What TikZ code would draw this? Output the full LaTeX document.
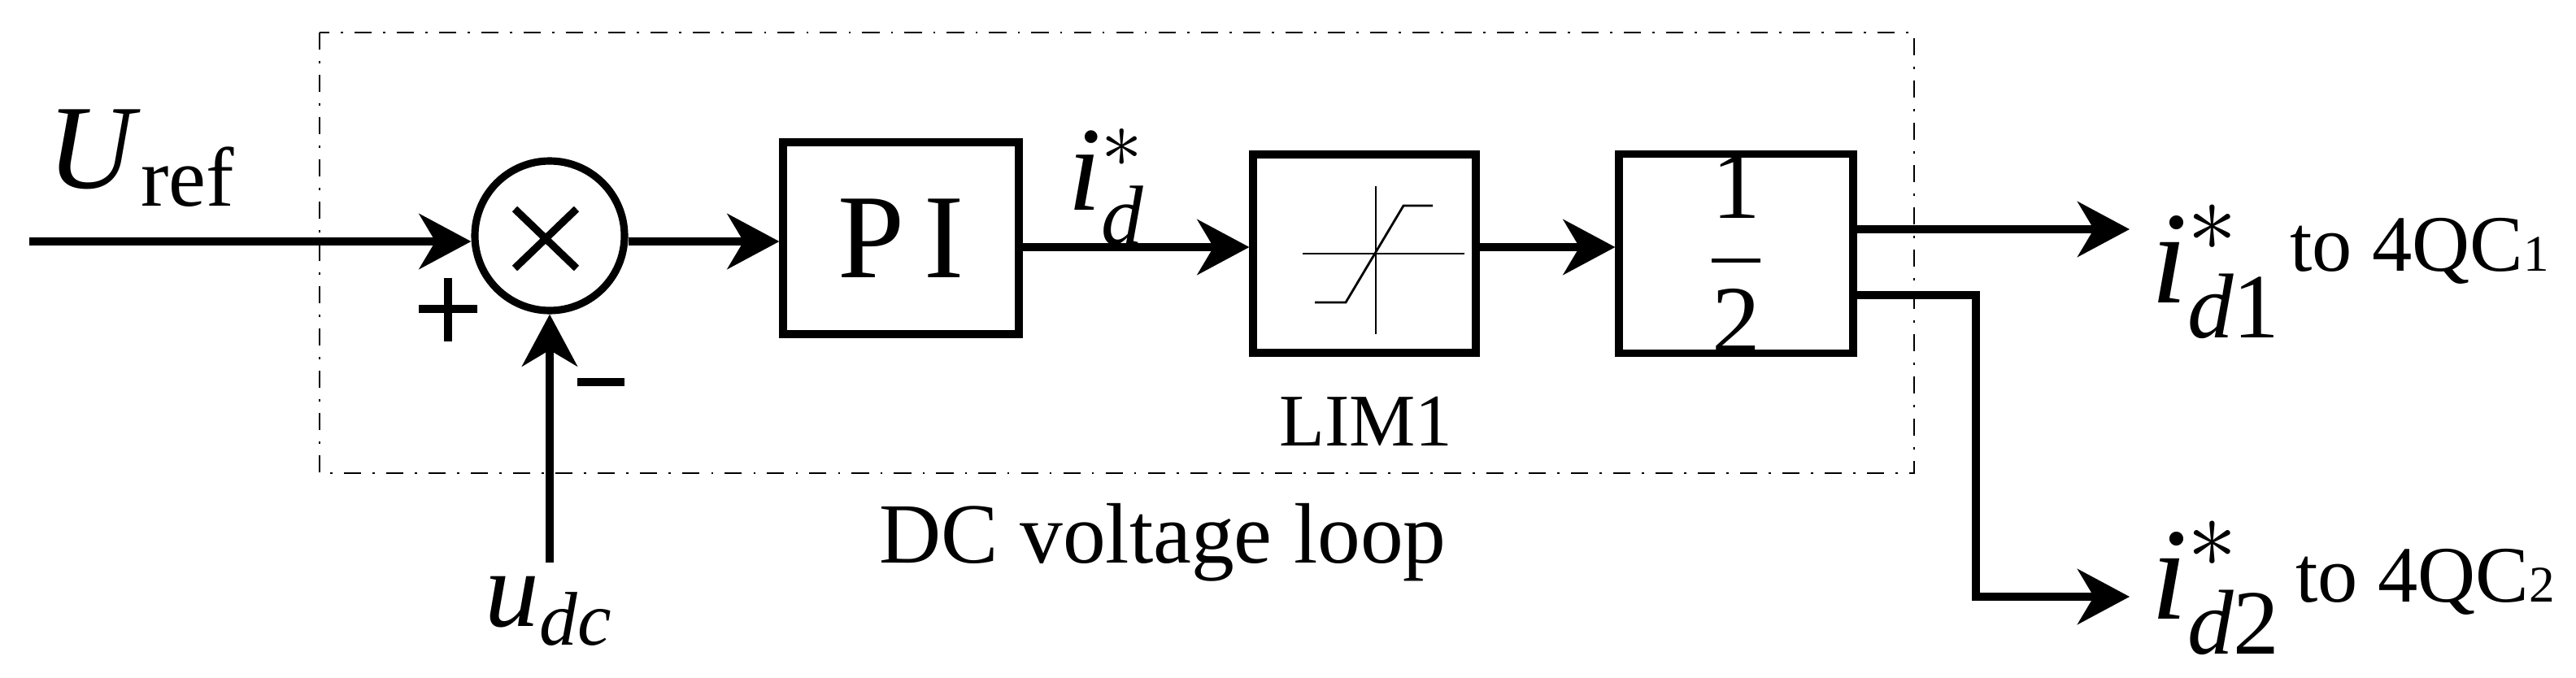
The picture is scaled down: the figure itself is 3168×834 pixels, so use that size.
\documentclass[tikz,border=0pt]{standalone}
\usepackage{amsmath}
\usepackage{fontspec}
\setmainfont{Liberation Serif}
\newfontfamily\tms{Liberation Serif}
\usetikzlibrary{arrows.meta,positioning}
\begin{document}
\begin{tikzpicture}[x=0.05mm,y=-0.05mm,font=\tms]
		\tikzstyle{blk}=[draw,line width=1.3pt,minimum width=14.4mm,minimum height=12.2mm,inner sep=0]
		\tikzstyle{sig}=[line width=1.3pt,-{Stealth[length=3.2mm,width=3.4mm,inset=1mm]}]
		\tikzstyle{thin}=[line width=0.4pt]
		\tikzstyle{sgn}=[line width=1.3pt]
		\useasboundingbox (0,0) rectangle (3168,834);
		
		% dashed frame
		\draw[thin,dash dot] (393,40) rectangle (2354,582);
		
		\coordinate (in) at (36,297);
		\node [circle,draw,line width=1.3pt,minimum size=9.2mm,inner sep=0] (sum) at (676,290) {};
		\draw[line width=1.3pt] (633,257)--(709,330) (709,257)--(633,330);
		\node [blk,minimum width=14.5mm,minimum height=11.8mm] (pi) at (1108,293) {\fontsize{21}{21}\selectfont\tms P\,I};
		\node [blk,minimum width=13.7mm] (lim) at (1678,312) {};
		\node [blk] (half) at (2135,312) {\fontsize{17}{17}\selectfont$\displaystyle\frac{\text{\tms 1}}{\text{\tms 2}}$};
		
		% limiter icon
		\draw[thin] (1602,312)--(1801,312) (1692,229)--(1692,411);
		\draw[thin] (1617,372)--(1655,372)--(1726,253)--(1762,253);
		
		\coordinate (udc) at (676,692);
		\coordinate (o1) at (2619,282);
		\coordinate (k) at (2430,363);
		\coordinate (o2) at (2619,734);
		
		\draw[sig] (in) -- (sum.west |- in);
		\draw[sig] (udc) -- (sum.south);
		\draw[sig] (sum.east |- 0,297) -- (pi.west |- 0,297);
		\draw[sig] (pi.east |- 0,304) -- (lim.west |- 0,304);
		\draw[sig] (lim.east |- 0,304) -- (half.west |- 0,304);
		\draw[sig] (half.east |- o1) -- (o1);
		\draw[sig] (half.east |- k) -- (k) |- (o2);
		
		% signs
		\draw[sgn] (515,380)--(587,380) (551,342)--(551,420);
		\draw[sgn] (710,470)--(768,470);
		
		% labels
		\node [anchor=base west,inner sep=0] (lref) at (57,231) {\fontsize{21}{21}\selectfont\textit{U}$_{\text{\tms ref}}$};
		\node [anchor=base] (ludc) at (676,770) {\fontsize{19}{19}\selectfont\textit{u}$_{\text{\tms\itshape dc}}$};
		\node [anchor=base] (lid) at (1362,258) {\fontsize{21}{21}\selectfont\textit{i}$^{*}_{\text{\tms\itshape d}}$};
		\node [anchor=base] (llim) at (1680,548) {\fontsize{13}{13}\selectfont LIM1};
		\node [anchor=base] (lloop) at (1430,692) {\fontsize{15}{15}\selectfont DC voltage loop};
		\node [anchor=base west,inner sep=0] (lo1) at (2644,372) {\fontsize{23}{23}\selectfont\textit{i}$^{*}_{\text{\tms\itshape d}\text{\tms 1}}$};
		\node [anchor=base west,inner sep=0] (to1) at (2815,333) {\fontsize{14}{14}\selectfont to 4QC{\fontsize{9}{9}\selectfont 1}};
		\node [anchor=base west,inner sep=0] (lo2) at (2644,761) {\fontsize{23}{23}\selectfont\textit{i}$^{*}_{\text{\tms\itshape d}\text{\tms 2}}$};
		\node [anchor=base west,inner sep=0] (to2) at (2822,740) {\fontsize{14}{14}\selectfont to 4QC{\fontsize{9}{9}\selectfont 2}};
	\end{tikzpicture}
\end{document}
